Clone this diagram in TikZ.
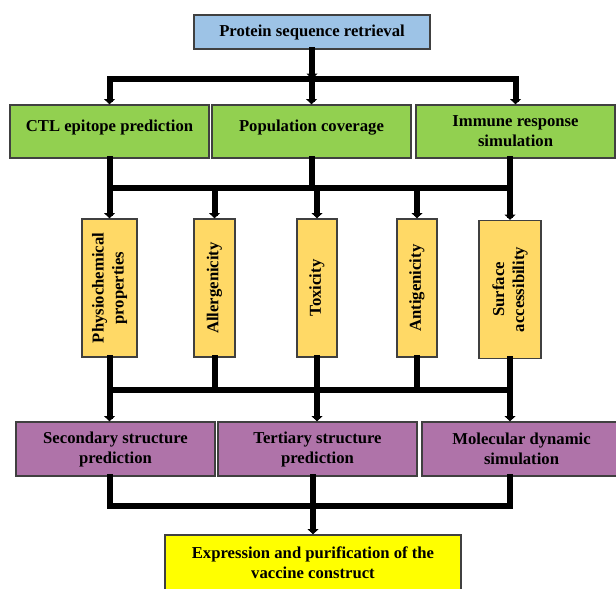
\documentclass[tikz,border=0pt]{standalone}
\usepackage{fontspec}
\setmainfont{Liberation Serif}
\usepackage{graphicx}
\usetikzlibrary{arrows.meta,positioning}
\definecolor{retrievalblue}{HTML}{9DC3E6}
\definecolor{stepgreen}{HTML}{92D050}
\definecolor{checkyellow}{HTML}{FFD966}
\definecolor{structpurple}{HTML}{AF73A9}
\definecolor{finalyellow}{HTML}{FFFF00}
\tikzstyle{box}        = [draw=black!75, line width=0.9pt, align=center, inner sep=2pt, font=\fontsize{12.5}{15}\selectfont\bfseries]
\tikzstyle{greenbox}   = [box, fill=stepgreen, minimum width=149.25pt, minimum height=39.75pt]
\tikzstyle{yellowbox}  = [box, fill=checkyellow, minimum height=103.5pt]
\tikzstyle{purplebox}  = [box, fill=structpurple, minimum width=149.25pt, minimum height=40.5pt]
\tikzstyle{link}       = [line width=4.5pt, line cap=rect]
\tikzstyle{arrow}      = [link, -{Triangle[length=4pt,width=8pt]}]

\begin{document}
\begin{tikzpicture}[x=0.75pt,y=-0.75pt]
    \useasboundingbox (0,0) rectangle (616,588);

    % top
    \node[box, fill=retrievalblue, minimum width=177pt, minimum height=25.5pt] (retrieval) at (312,32) {Protein sequence retrieval};

    % green row
    \node[greenbox] (ctl)      at (109.5,131.5) {\raisebox{9pt}{CTL epitope prediction}};
    \node[greenbox] (coverage) at (311.5,131.5) {\raisebox{9pt}{Population coverage}};
    \node[greenbox] (immune)   at (515.5,131.5) {Immune response\\simulation};

    % yellow row
    \node[yellowbox, minimum width=41.25pt] (physio)   at (109.5,288) {\rotatebox{90}{\begin{tabular}{@{}c@{}}Physiochemical\\properties\end{tabular}}};
    \node[yellowbox, minimum width=30.75pt] (allergen) at (214.5,288) {\rotatebox{90}{Allergenicity}};
    \node[yellowbox, minimum width=30pt]    (toxic)    at (317,288)   {\rotatebox{90}{Toxicity}};
    \node[yellowbox, minimum width=30pt]    (antigen)  at (417,288)   {\rotatebox{90}{Antigenicity}};
    \node[yellowbox, minimum width=46.5pt]  (surface)  at (510,289.5) {\rotatebox{90}{\begin{tabular}{@{}c@{}}Surface\\accessibility\end{tabular}}};

    % purple row
    \node[purplebox] (secondary) at (115.5,449) {Secondary structure\\prediction};
    \node[purplebox] (tertiary)  at (317.5,449) {Tertiary structure\\prediction};
    \node[purplebox] (molecular) at (521.5,449) {Molecular dynamic\\simulation};

    % bottom
    \node[box, fill=finalyellow, minimum width=222pt, minimum height=42pt] (expression) at (313,563) {Expression and purification of the\\vaccine construct};

    % bus lines
    \coordinate (busA) at (0,79);
    \coordinate (busB) at (0,188);
    \coordinate (busC) at (0,390);
    \coordinate (busD) at (0,506);

    \draw[arrow] (retrieval.south) -- (retrieval.south |- busA);
    \draw[link] (ctl.north |- busA) -- (immune.north |- busA);
    \foreach \n in {ctl,coverage,immune}
        \draw[arrow] (\n.north |- busA) -- (\n.north);

    \draw[link] (ctl.south) -- (ctl.south |- busB);
    \draw[link] (coverage.south) -- (coverage.south |- busB);
    \draw[link] (immune.south -| surface.north) -- (surface.north |- busB);
    \draw[link] (physio.north |- busB) -- (surface.north |- busB);
    \foreach \n in {physio,allergen,toxic,antigen,surface}
        \draw[arrow] (\n.north |- busB) -- (\n.north);

    \foreach \n in {physio,allergen,toxic,antigen,surface}
        \draw[link] (\n.south) -- (\n.south |- busC);
    \draw[link] (physio.south |- busC) -- (surface.south |- busC);
    \draw[arrow] (physio.south |- busC) -- (physio.south |- secondary.north);
    \draw[arrow] (toxic.south |- busC) -- (toxic.south |- tertiary.north);
    \draw[arrow] (surface.south |- busC) -- (surface.south |- molecular.north);

    \draw[link] (physio.south |- secondary.south) -- (physio.south |- busD);
    \draw[link] (expression.north |- tertiary.south) -- (expression.north |- busD);
    \draw[link] (surface.south |- molecular.south) -- (surface.south |- busD);
    \draw[link] (physio.south |- busD) -- (surface.south |- busD);
    \draw[arrow] (expression.north |- busD) -- (expression.north);
\end{tikzpicture}
\end{document}
